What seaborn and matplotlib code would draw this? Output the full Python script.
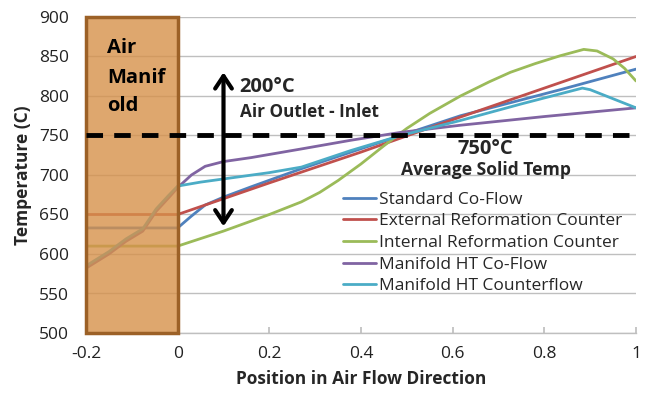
import numpy as np
import pandas as pd
import matplotlib
matplotlib.use("Agg")
import matplotlib.pyplot as plt
import seaborn as sns
from matplotlib.patches import Rectangle

# ---- data ----
series_names = ["Standard Co-Flow", "External Reformation Counter",
                "Internal Reformation Counter", "Manifold HT Co-Flow",
                "Manifold HT Counterflow"]
series_colors = ["#4F81BD", "#C0504D", "#9BBB59", "#8064A2", "#4BACC6"]

std_x = [-0.2, 0.0, 0.03, 0.06, 0.1, 0.16, 0.27, 0.378, 0.487, 0.617, 0.835, 1.0]
std_y = [633, 633, 648, 662, 672, 685, 708, 729, 750, 775, 808, 834]

ext_x = [-0.2, 0.0, 0.2, 0.4, 0.6, 0.8, 1.0]
ext_y = [650, 650, 690, 729, 770, 810, 850]

int_x = [-0.2, 0.0, 0.1, 0.2, 0.27, 0.31, 0.35, 0.4, 0.45, 0.5, 0.55, 0.617,
         0.68, 0.726, 0.78, 0.835, 0.886, 0.915, 0.95, 0.975, 1.0]
int_y = [610, 610, 629, 650, 666, 678, 693, 714, 737, 759, 778, 800,
         818, 830, 841, 851, 859, 857, 847, 835, 819]

mco_x = [-0.2, -0.15, -0.113, -0.076, -0.047, -0.02, 0.0, 0.03, 0.06, 0.1,
         0.16, 0.27, 0.378, 0.487, 0.617, 0.8, 1.0]
mco_y = [582, 600, 616, 629, 654, 671, 684, 700, 711, 717,
         722, 733, 744, 754, 763, 774, 785]

mcf_x = [-0.2, -0.15, -0.113, -0.076, -0.047, -0.02, 0.0, 0.05, 0.1, 0.2,
         0.27, 0.378, 0.487, 0.617, 0.75, 0.883, 0.9, 1.0]
mcf_y = [585, 603, 619, 632, 657, 674, 686, 691, 695, 703,
         710, 731, 750, 769, 790, 810, 808, 785]

x_ticks = [-0.2, 0.0, 0.2, 0.4, 0.6, 0.8, 1.0]
x_tick_labels = ["-0.2", "0", "0.2", "0.4", "0.6", "0.8", "1"]
y_ticks = [500, 550, 600, 650, 700, 750, 800, 850, 900]

avg_solid_temp = 750
arrow_low, arrow_high = 635, 830

frames = []
for name, xs, ys in zip(series_names,
                        [std_x, ext_x, int_x, mco_x, mcf_x],
                        [std_y, ext_y, int_y, mco_y, mcf_y]):
    frames.append(pd.DataFrame({"x": xs, "y": ys, "series": name}))
df = pd.concat(frames, ignore_index=True)

# ---- styling ----
sns.set_theme(style="white")
plt.rcParams["font.family"] = ["Open Sans", "DejaVu Sans"]

fig = plt.figure(figsize=(6.46, 3.97), dpi=100)
ax = fig.add_axes([86 / 646, 1 - 333 / 397, 550 / 646, 316 / 397])

sns.lineplot(data=df, x="x", y="y", hue="series", hue_order=series_names,
             palette=dict(zip(series_names, series_colors)),
             sort=False, estimator=None, lw=2, ax=ax, zorder=2)

ax.set_xlim(-0.2, 1.0)
ax.set_ylim(500, 900)
ax.set_xticks(x_ticks)
ax.set_xticklabels(x_tick_labels)
ax.set_yticks(y_ticks)
ax.yaxis.grid(True, color="#BFBFBF", lw=1, zorder=0)
ax.xaxis.grid(False)
for s in ["top", "right", "left"]:
    ax.spines[s].set_visible(False)
ax.spines["bottom"].set_color("#BFBFBF")
ax.spines["bottom"].set_linewidth(1)
ax.tick_params(axis="x", direction="in", length=4, color="#BFBFBF",
               labelsize=12.5, labelcolor="#222222", pad=9, bottom=True)
ax.tick_params(axis="y", length=0, labelsize=12.5, labelcolor="#222222", pad=12)

ax.set_xlabel("Position in Air Flow Direction", fontsize=12.5, fontweight="bold",
              labelpad=6)
ax.set_ylabel("Temperature (C)", fontsize=12.5, fontweight="bold", labelpad=5)

# Air manifold box
box = Rectangle((-0.2, 500), 0.2, 400, facecolor=(0.84, 0.57, 0.29, 0.8),
                edgecolor="#9C6127", lw=2.5, zorder=3, clip_on=False)
ax.add_patch(box)
for txt, yb in [("Air", 854), ("Manif", 817), ("old", 781.5)]:
    ax.text(-0.154, yb, txt, fontsize=14.5, fontweight="bold", va="baseline",
            ha="left", zorder=5, color="black")

# average solid temp dashed line
ax.axhline(avg_solid_temp, color="black", lw=3.5, dashes=(3.4, 2.3), zorder=4)

# double arrow
ax.annotate("", xy=(0.1, arrow_high), xytext=(0.1, arrow_low),
            arrowprops=dict(arrowstyle="<->,head_length=0.75,head_width=0.5",
                            lw=3, color="black", shrinkA=0, shrinkB=0),
            zorder=5)

ax.text(0.135, 805, "200°C", fontsize=14.5, fontweight="bold", va="baseline", ha="left")
ax.text(0.135, 774, "Air Outlet - Inlet", fontsize=12.3, fontweight="bold",
        va="baseline", ha="left")
ax.text(0.672, 726, "750°C", fontsize=14.5, fontweight="bold", va="baseline", ha="center")
ax.text(0.672, 699.5, "Average Solid Temp", fontsize=12.6, fontweight="bold",
        va="baseline", ha="center")

handles, labels = ax.get_legend_handles_labels()
ax.legend(handles, labels, loc="upper left", bbox_to_anchor=(0.468, 0.448),
          frameon=False, fontsize=12.5, handlelength=1.85, handletextpad=0.2,
          labelspacing=0.32, borderpad=0, borderaxespad=0)

fig.savefig("out.png", dpi=100)
